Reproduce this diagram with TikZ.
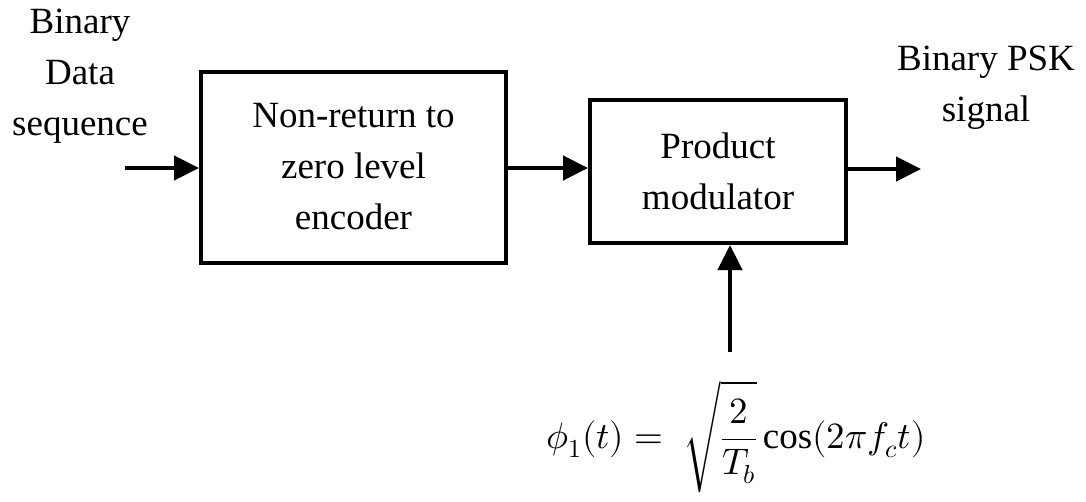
\documentclass[tikz,border=0pt]{standalone}
\usepackage{amsmath}
\usepackage{fontspec}
\usepackage{unicode-math}
\setmainfont{Liberation Serif}
\setmathfont{Latin Modern Math}
\usetikzlibrary{arrows.meta}
\begin{document}
\begin{tikzpicture}[x=1pt,y=-1pt,
  font=\fontsize{37}{51}\selectfont,
  blk/.style={draw,line width=4pt,align=center,inner sep=0pt},
  lbl/.style={align=center,inner sep=0pt},
  flow/.style={line width=4.5pt,-{Triangle[length=25pt,width=24pt]}}]
  \useasboundingbox (0,0) rectangle (1086,501);
  % processing blocks
  \node[blk,minimum width=305pt,minimum height=191pt] (nrz) at (353.5,167)
    {Non-return to\\zero level\\encoder};
  \node[blk,minimum width=256pt,minimum height=143pt] (pm) at (718,171.5)
    {Product\\modulator};
  % input and output labels
  \node[lbl] (inlbl) at (80,76) {Binary\\Data\\sequence};
  \node[lbl] (outlbl) at (986,88) {Binary PSK\\signal};
  % carrier expression
  \node[lbl] (carrier) at (736,437)
    {$\displaystyle \phi_1(t) = \;\sqrt{\frac{2}{T_b}}\cos(2\pi f_c t)$};
  % connectors
  \coordinate (src) at (125,168);
  \coordinate (sink) at (921,169);
  \coordinate (cin) at (730,352);
  \draw[flow] (src) -- (src -| nrz.west);
  \draw[flow] (nrz.east |- src) -- (src -| pm.west);
  \draw[flow] (pm.east |- sink) -- (sink);
  \draw[flow] (cin) -- (cin |- pm.south);
\end{tikzpicture}
\end{document}
